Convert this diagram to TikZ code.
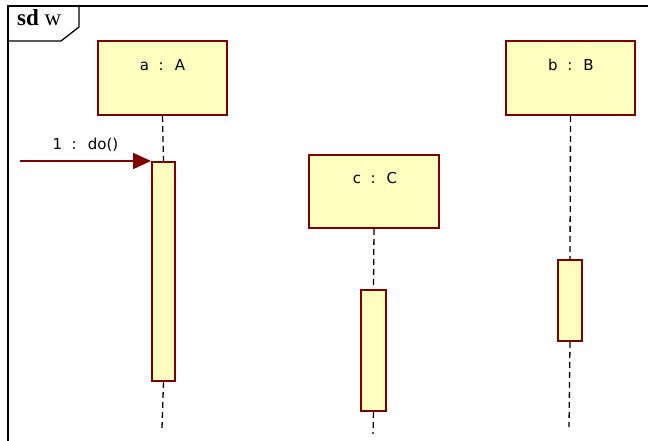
\documentclass[tikz,border=0pt]{standalone}
\usepackage{fontspec}
\setmainfont{Liberation Serif}
\newfontfamily\lblfont[WordSpace=2]{DejaVu Sans}
\usetikzlibrary{arrows.meta}
\definecolor{objred}{RGB}{128,0,0}
\definecolor{objfill}{RGB}{255,255,192}
\begin{document}
\begin{tikzpicture}[
x=1pt,y=1pt,
every node/.style={anchor = south west,inner sep=0pt},
frame/.style={line width=2pt,black},
obj/.style={draw=objred,fill=objfill,line width=2pt},
head/.style={obj,minimum height=74pt,minimum width=129pt},
actv/.style={obj,minimum width=23pt},
tag/.style={anchor=base,align=center,font=\lblfont\fontsize{15}{18}\selectfont},
life/.style={line width=1.3pt,dash pattern=on 6pt off 4pt},
msg/.style={line width=2pt,objred,-{Triangle[length=18pt,width=16pt]}},
]
\useasboundingbox (0,0) rectangle (648,441);
%\draw[help lines](0,0)grid(648,441);

%Frame
\draw[frame] (8,-5) -- (8,435) -- (660,435);
\draw[line width=1.3pt] (79,435) -- (79,414) -- (61,400) -- (8,400);
\node[anchor=base west,font=\fontsize{23}{27}\selectfont](fname)at(17,415){\textbf{sd} w};

%Objects
\node[head](a)at(97,325){};
\node[tag](aName)at(162.5,370){a : A};
\node[head](b)at(505,325){};
\node[tag](bName)at(571,370){b : B};
\node[head,minimum height=73pt,minimum width=130pt](c)at(308,212){};
\node[tag](cName)at(375,257){c : C};

%Activations
\node[actv,minimum height=219pt](actA)at(151,59){};
\node[actv,minimum height=121pt,minimum width=25pt](actC)at(360,29){};
\node[actv,minimum height=81pt,minimum width=24pt](actB)at(557,99){};

%Lifelines
\coordinate (endA) at (162,13);
\coordinate (endC) at (373,7);
\coordinate (endB) at (569,14);
\draw[life] (a.south) -- (actA.north);
\draw[life] (actA.south) -- (endA);
\draw[life] (c.south) -- (actC.north);
\draw[life] (actC.south) -- (endC);
\draw[life] (b.south) -- (actB.north);
\draw[life] (actB.south) -- (endB);

%Message
\coordinate (src) at (20,0 |- actA.north west);
\draw[msg] (src) -- (actA.north west);
\node[tag](msgName)at(85.5,291){1 : do()};

\end{tikzpicture}
\end{document}
